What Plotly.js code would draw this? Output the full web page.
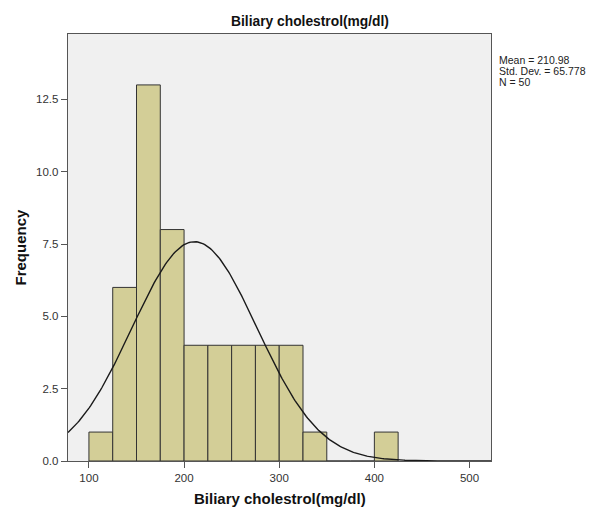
<!DOCTYPE html>
<html>
<head>
<meta charset="utf-8">
<script src="https://cdn.plot.ly/plotly-3.0.1.min.js"></script>
<style>html,body{margin:0;padding:0;background:#fff;}#chart{width:594px;height:508px;}</style>
</head>
<body>
<div id="chart"></div>
<script>
// Histogram bins (lower edges, width 25) and frequencies
const binStarts = [100, 125, 150, 175, 200, 225, 250, 275, 300, 325, 350, 375, 400];
const binWidth = 25;
const frequencies = [1, 6, 13, 8, 4, 4, 4, 4, 4, 1, 0, 0, 1];
// Summary statistics shown on the chart
const statMean = 210.98;
const statSD = 65.778;
const statN = 50;
const statLabels = ["Mean = 210.98", "Std. Dev. = 65.778", "N = 50"];
const xTicks = [100, 200, 300, 400, 500];
const yTicks = [0, 2.5, 5, 7.5, 10, 12.5];

const xMin = 78, xMax = 522.6;
const binCenters = binStarts.map(s => s + binWidth / 2);

// Fitted normal curve from the stated mean / SD, scaled to counts
const curveX = [], curveY = [];
for (let i = 0; i <= 300; i++) {
  const x = xMin + (xMax - xMin) * i / 300;
  const z = (x - statMean) / statSD;
  curveX.push(x);
  curveY.push(statN * binWidth * Math.exp(-0.5 * z * z) / (statSD * Math.sqrt(2 * Math.PI)));
}

const font = "Arial, 'Liberation Sans', sans-serif";
const traces = [
  {
    type: 'bar', x: binCenters, y: frequencies, width: binWidth,
    marker: {color: '#D3CE97', line: {color: '#333333', width: 1}},
    hoverinfo: 'skip'
  },
  {
    type: 'scatter', mode: 'lines', x: curveX, y: curveY,
    line: {color: '#1a1a1a', width: 1.4}, hoverinfo: 'skip'
  }
];

const plotTop = 34, plotBottom = 461;
const pyToPaper = py => (plotBottom - py) / (plotBottom - plotTop);
const statY = [60.5, 71, 81.5];

const annotations = statLabels.map((t, i) => ({
  text: t, xref: 'paper', yref: 'paper', x: 1, xshift: 6, y: pyToPaper(statY[i]),
  xanchor: 'left', yanchor: 'middle', showarrow: false,
  font: {family: font, size: 10.5, color: '#222'}
}));
annotations.push({
  text: '<b>Biliary cholestrol(mg/dl)</b>', xref: 'paper', yref: 'paper',
  x: 0.5, y: pyToPaper(498), xanchor: 'center', yanchor: 'middle', showarrow: false,
  font: {family: font, size: 15, color: '#111'}
});
annotations.push({
  text: '<b>Frequency</b>', xref: 'paper', yref: 'paper', textangle: -90,
  x: 0, xshift: -48, y: pyToPaper(247.5), xanchor: 'center', yanchor: 'middle', showarrow: false,
  font: {family: font, size: 15, color: '#111'}
});

const layout = {
  width: 594, height: 508,
  margin: {l: 68, r: 102.5, t: 34, b: 47, pad: 0},
  paper_bgcolor: '#ffffff', plot_bgcolor: '#F0F0F0',
  showlegend: false, bargap: 0,
  title: {
    text: '<b>Biliary cholestrol(mg/dl)</b>', xref: 'container', yref: 'container',
    x: 310 / 594, y: 1 - 21 / 508, xanchor: 'center', yanchor: 'middle',
    font: {family: font, size: 13.8, color: '#111'}
  },
  xaxis: {
    range: [xMin, xMax], tickvals: xTicks, ticktext: xTicks.map(String),
    showgrid: false, zeroline: false, showline: true, mirror: true,
    linecolor: '#555', linewidth: 1.3, ticks: 'outside', ticklen: 6, tickcolor: '#555',
    tickfont: {family: font, size: 11.5, color: '#333'}, fixedrange: true
  },
  yaxis: {
    range: [0, 14.76], tickvals: yTicks, ticktext: yTicks.map(v => v.toFixed(1)),
    showgrid: false, zeroline: false, showline: true, mirror: true,
    linecolor: '#555', linewidth: 1.3, ticks: 'outside', ticklen: 6, tickcolor: '#555',
    tickfont: {family: font, size: 11.5, color: '#333'}, fixedrange: true
  },
  annotations: annotations
};

Plotly.newPlot('chart', traces, layout, {displayModeBar: false, staticPlot: true});
</script>
</body>
</html>
